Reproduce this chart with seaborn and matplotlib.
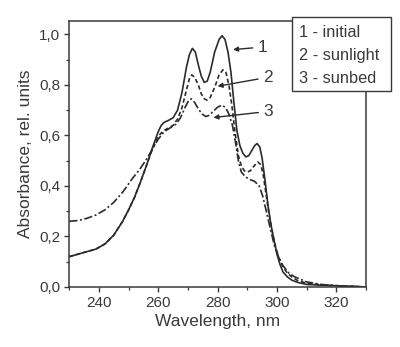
import matplotlib
matplotlib.use("Agg")
import matplotlib.pyplot as plt
import matplotlib.patches as mpatches
from matplotlib.ticker import MultipleLocator, FuncFormatter
import seaborn as sns
import pandas as pd

# Absorption spectra (wavelength in nm, absorbance in rel. units)
wl_initial = [230, 233, 236, 239, 242, 245, 248, 250, 252, 254, 256, 258, 260, 261, 262,
              263.5, 265, 266.5, 268, 269.5, 270.5, 271.5, 272.5, 273.5, 274.5, 275.5,
              276.5, 277.5, 279, 280.5, 281.5, 282.5, 283.5, 284.5, 285.5, 286.5, 287.5,
              288.5, 289.5, 290.5, 291.5, 292.5, 293.3, 294.2, 295, 296, 297, 298, 299,
              300, 301, 302, 303.5, 305, 307, 310, 315, 320, 330]
abs_initial = [0.12, 0.13, 0.14, 0.15, 0.17, 0.205, 0.26, 0.305, 0.355, 0.415, 0.48, 0.55, 0.615,
               0.64, 0.652, 0.66, 0.67, 0.70, 0.77, 0.87, 0.92, 0.945, 0.93, 0.88, 0.835, 0.81,
               0.815, 0.85, 0.93, 0.98, 0.995, 0.98, 0.93, 0.85, 0.73, 0.62, 0.56, 0.53, 0.515,
               0.52, 0.54, 0.56, 0.568, 0.555, 0.51, 0.42, 0.32, 0.245, 0.185, 0.13, 0.09,
               0.06, 0.04, 0.027, 0.018, 0.01, 0.007, 0.005, 0.0]

wl_sunlight = [230, 233, 236, 239, 242, 245, 248, 250, 252, 254, 256, 258, 260, 261, 262,
               263.5, 265, 266.5, 268, 269.5, 270.5, 271.3, 272.3, 273.5, 274.5, 275.5,
               276.5, 277.5, 279, 280.5, 281.8, 282.8, 283.8, 284.8, 285.8, 287, 288, 289,
               290, 291, 292, 293.5, 294.5, 295.3, 296.3, 297.3, 298.5, 299.5, 300.5, 302,
               303.5, 305, 307, 310, 315, 320, 330]
abs_sunlight = [0.12, 0.13, 0.14, 0.15, 0.17, 0.205, 0.26, 0.305, 0.355, 0.415, 0.48, 0.545,
                0.595, 0.61, 0.62, 0.63, 0.64, 0.665, 0.71, 0.78, 0.825, 0.84, 0.83, 0.80,
                0.765, 0.745, 0.74, 0.75, 0.79, 0.84, 0.86, 0.85, 0.80, 0.72, 0.62, 0.52,
                0.48, 0.46, 0.455, 0.46, 0.475, 0.495, 0.485, 0.45, 0.37, 0.29, 0.215, 0.16,
                0.12, 0.08, 0.055, 0.04, 0.025, 0.015, 0.008, 0.005, 0.0]

wl_sunbed = [230, 233, 236, 239, 242, 245, 248, 251, 254, 256, 258, 260, 262, 264, 266,
             267.5, 269, 270.3, 271.2, 272.3, 273.5, 274.8, 276, 277.2, 278.5, 280, 281.5,
             282.7, 283.8, 285, 286, 287, 288, 289.5, 291, 292.5, 294, 295.2, 296.3, 297.5,
             299, 300.5, 302, 304, 306, 308, 310, 315, 320, 330]
abs_sunbed = [0.26, 0.263, 0.272, 0.285, 0.305, 0.335, 0.375, 0.425, 0.47, 0.505, 0.545, 0.585,
              0.615, 0.63, 0.645, 0.67, 0.71, 0.74, 0.745, 0.73, 0.705, 0.685, 0.675, 0.68,
              0.695, 0.712, 0.72, 0.71, 0.685, 0.64, 0.575, 0.50, 0.455, 0.435, 0.425, 0.418,
              0.40, 0.36, 0.305, 0.245, 0.17, 0.12, 0.085, 0.055, 0.04, 0.03, 0.02, 0.01,
              0.005, 0.0]

legend_lines = ["1 - initial", "2 - sunlight", "3 - sunbed"]
x_ticks = [240, 260, 280, 300, 320]
y_ticks = [0.0, 0.2, 0.4, 0.6, 0.8, 1.0]

df = pd.concat([
    pd.DataFrame({"wl": wl_initial, "absorb": abs_initial, "sample": "initial"}),
    pd.DataFrame({"wl": wl_sunlight, "absorb": abs_sunlight, "sample": "sunlight"}),
    pd.DataFrame({"wl": wl_sunbed, "absorb": abs_sunbed, "sample": "sunbed"}),
], ignore_index=True)

sns.set_theme(style="ticks")
plt.rcParams["font.family"] = ["Liberation Sans", "DejaVu Sans"]
plt.rcParams["text.color"] = "#3a3a3a"
plt.rcParams["axes.labelcolor"] = "#3a3a3a"
plt.rcParams["xtick.color"] = "#3a3a3a"
plt.rcParams["ytick.color"] = "#3a3a3a"

ink = "#2b2b2b"
fig = plt.figure(figsize=(4.0, 3.47), dpi=100)
ax = fig.add_axes([0.173, 0.173, 0.742, 0.767])

sns.lineplot(data=df, x="wl", y="absorb", style="sample",
             style_order=["initial", "sunlight", "sunbed"],
             dashes={"initial": "", "sunlight": (2.6, 1.6), "sunbed": (5, 1.5, 1.2, 1.5)},
             color=ink, linewidth=1.2, legend=False, sort=False, ax=ax)

ax.set_xlim(230, 330)
ax.set_ylim(0, 1.054)
ax.set_xticks(x_ticks)
ax.set_yticks(y_ticks)
ax.xaxis.set_minor_locator(MultipleLocator(10))
ax.yaxis.set_minor_locator(MultipleLocator(0.1))
ax.yaxis.set_major_formatter(FuncFormatter(lambda v, p: f"{v:.1f}".replace(".", ",")))
ax.tick_params(which="major", direction="out", length=3.5, width=1, labelsize=11, pad=3)
ax.tick_params(which="minor", direction="out", length=2, width=0.9)
for s in ax.spines.values():
    s.set_color("#3a3a3a")
    s.set_linewidth(1.1)

ax.set_xlabel("Wavelength, nm", fontsize=12.5, labelpad=3)
ax.set_ylabel("Absorbance, rel. units", fontsize=12.5, labelpad=4)

# Curve labels with pointer arrows
arrow = dict(arrowstyle="-|>", color=ink, lw=1.0, mutation_scale=7, shrinkA=1, shrinkB=0)
ax.annotate("1", xy=(285.2, 0.94), xytext=(293.4, 0.95), fontsize=12.5,
            ha="left", va="center", arrowprops=arrow)
ax.annotate("2", xy=(280.0, 0.795), xytext=(295.2, 0.83), fontsize=12.5,
            ha="left", va="center", arrowprops=arrow)
ax.annotate("3", xy=(278.6, 0.671), xytext=(295.3, 0.695), fontsize=12.5,
            ha="left", va="center", arrowprops=arrow)

# Key box overlapping the upper right corner of the frame
box = mpatches.Rectangle((0.729, 0.738), 0.248, 0.214, transform=fig.transFigure,
                         facecolor="white", edgecolor="#3a3a3a", linewidth=1.0, zorder=5)
fig.patches.append(box)
for i, txt in enumerate(legend_lines):
    fig.text(0.748, 0.907 - i * 0.066, txt, fontsize=11.8, ha="left", va="center", zorder=6)

fig.savefig("out.png", dpi=100)
